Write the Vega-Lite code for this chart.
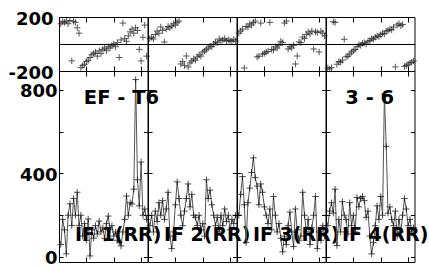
{
"$schema":"https://vega.github.io/schema/vega-lite/v6.json",
"padding":{"left":7,"top":9,"right":2,"bottom":0},
"background":"white",
"config":{"view":{"stroke":"black","strokeWidth":1},"axis":{"labelFont":"DejaVu Sans","labelFontWeight":"bold","labelFontSize":18,"labelColor":"black","tickColor":"black","tickWidth":1}},
"datasets":{
"labs":[{"p":1,"lab":"IF 1(RR)","top":"EF - T6"},{"p":2,"lab":"IF 2(RR)","top":""},{"p":3,"lab":"IF 3(RR)","top":""},{"p":4,"lab":"IF 4(RR)","top":"3 - 6"}],
"d":[
{"p":1,"c":1,"a":60,"f":150},{"p":1,"c":2,"a":180,"f":165},{"p":1,"c":3,"a":130,"f":160},{"p":1,"c":4,"a":15,"f":170},{"p":1,"c":5,"a":200,"f":150},{"p":1,"c":6,"a":255,"f":175},{"p":1,"c":7,"a":150,"f":-125},{"p":1,"c":8,"a":280,"f":168},{"p":1,"c":9,"a":200,"f":160},{"p":1,"c":10,"a":310,"f":120},{"p":1,"c":11,"a":150,"f":80},{"p":1,"c":12,"a":200,"f":-175},{"p":1,"c":13,"a":100,"f":-160},{"p":1,"c":14,"a":160,"f":-150},{"p":1,"c":15,"a":80,"f":-130},{"p":1,"c":16,"a":182,"f":-120},{"p":1,"c":17,"a":5,"f":-100},{"p":1,"c":18,"a":130,"f":-80},{"p":1,"c":19,"a":90,"f":-70},{"p":1,"c":20,"a":150,"f":-60},{"p":1,"c":21,"a":110,"f":-90},{"p":1,"c":22,"a":172,"f":-50},{"p":1,"c":23,"a":120,"f":-70},{"p":1,"c":24,"a":140,"f":-40},{"p":1,"c":25,"a":90,"f":-30},{"p":1,"c":26,"a":160,"f":-50},{"p":1,"c":27,"a":196,"f":-20},{"p":1,"c":28,"a":130,"f":-30},{"p":1,"c":29,"a":150,"f":-10},{"p":1,"c":30,"a":100,"f":0},{"p":1,"c":31,"a":120,"f":-20},{"p":1,"c":32,"a":80,"f":10},{"p":1,"c":33,"a":72,"f":-100},{"p":1,"c":34,"a":53,"f":30},{"p":1,"c":35,"a":120,"f":155},{"p":1,"c":36,"a":180,"f":40},{"p":1,"c":37,"a":292,"f":20},{"p":1,"c":38,"a":200,"f":60},{"p":1,"c":39,"a":260,"f":90},{"p":1,"c":40,"a":254,"f":110},{"p":1,"c":41,"a":325,"f":80},{"p":1,"c":42,"a":850,"f":120},{"p":1,"c":43,"a":370,"f":100},{"p":1,"c":44,"a":245,"f":-40},{"p":1,"c":45,"a":455,"f":-125},{"p":1,"c":46,"a":200,"f":50},{"p":1,"c":47,"a":230,"f":140},{"p":1,"c":48,"a":180,"f":-90},
{"p":2,"c":1,"a":150,"f":40},{"p":2,"c":2,"a":200,"f":50},{"p":2,"c":3,"a":120,"f":37},{"p":2,"c":4,"a":220,"f":70},{"p":2,"c":5,"a":170,"f":96},{"p":2,"c":6,"a":260,"f":80},{"p":2,"c":7,"a":200,"f":126},{"p":2,"c":8,"a":270,"f":100},{"p":2,"c":9,"a":180,"f":15},{"p":2,"c":10,"a":230,"f":110},{"p":2,"c":11,"a":310,"f":130},{"p":2,"c":12,"a":100,"f":120},{"p":2,"c":13,"a":40,"f":133},{"p":2,"c":14,"a":120,"f":150},{"p":2,"c":15,"a":250,"f":140},{"p":2,"c":16,"a":360,"f":160},{"p":2,"c":17,"a":280,"f":170},{"p":2,"c":18,"a":200,"f":-148},{"p":2,"c":19,"a":150,"f":-130},{"p":2,"c":20,"a":220,"f":-160},{"p":2,"c":21,"a":280,"f":-89},{"p":2,"c":22,"a":350,"f":-170},{"p":2,"c":23,"a":240,"f":-140},{"p":2,"c":24,"a":300,"f":-126},{"p":2,"c":25,"a":200,"f":-110},{"p":2,"c":26,"a":190,"f":-120},{"p":2,"c":27,"a":150,"f":-96},{"p":2,"c":28,"a":200,"f":-80},{"p":2,"c":29,"a":130,"f":-90},{"p":2,"c":30,"a":160,"f":-60},{"p":2,"c":31,"a":100,"f":-52},{"p":2,"c":32,"a":370,"f":-40},{"p":2,"c":33,"a":280,"f":-30},{"p":2,"c":34,"a":320,"f":-15},{"p":2,"c":35,"a":250,"f":-20},{"p":2,"c":36,"a":200,"f":0},{"p":2,"c":37,"a":150,"f":15},{"p":2,"c":38,"a":190,"f":10},{"p":2,"c":39,"a":120,"f":37},{"p":2,"c":40,"a":200,"f":25},{"p":2,"c":41,"a":150,"f":30},{"p":2,"c":42,"a":230,"f":40},{"p":2,"c":43,"a":170,"f":22},{"p":2,"c":44,"a":200,"f":30},{"p":2,"c":45,"a":130,"f":25},{"p":2,"c":46,"a":180,"f":20},{"p":2,"c":47,"a":160,"f":35},{"p":2,"c":48,"a":200,"f":22},
{"p":3,"c":1,"a":200,"f":80},{"p":3,"c":2,"a":300,"f":96},{"p":3,"c":3,"a":385,"f":110},{"p":3,"c":4,"a":250,"f":-178},{"p":3,"c":5,"a":70,"f":130},{"p":3,"c":6,"a":260,"f":125},{"p":3,"c":7,"a":330,"f":150},{"p":3,"c":8,"a":405,"f":140},{"p":3,"c":9,"a":475,"f":160},{"p":3,"c":10,"a":380,"f":170},{"p":3,"c":11,"a":340,"f":-96},{"p":3,"c":12,"a":250,"f":-90},{"p":3,"c":13,"a":350,"f":155},{"p":3,"c":14,"a":310,"f":-75},{"p":3,"c":15,"a":240,"f":-70},{"p":3,"c":16,"a":200,"f":-60},{"p":3,"c":17,"a":160,"f":-55},{"p":3,"c":18,"a":230,"f":160},{"p":3,"c":19,"a":130,"f":-40},{"p":3,"c":20,"a":290,"f":-45},{"p":3,"c":21,"a":200,"f":-20},{"p":3,"c":22,"a":120,"f":-30},{"p":3,"c":23,"a":160,"f":-10},{"p":3,"c":24,"a":90,"f":20},{"p":3,"c":25,"a":25,"f":10},{"p":3,"c":26,"a":100,"f":155},{"p":3,"c":27,"a":60,"f":170},{"p":3,"c":28,"a":150,"f":-37},{"p":3,"c":29,"a":215,"f":-20},{"p":3,"c":30,"a":120,"f":-30},{"p":3,"c":31,"a":50,"f":-10},{"p":3,"c":32,"a":230,"f":-148},{"p":3,"c":33,"a":130,"f":-89},{"p":3,"c":34,"a":80,"f":15},{"p":3,"c":35,"a":100,"f":10},{"p":3,"c":36,"a":310,"f":52},{"p":3,"c":37,"a":200,"f":40},{"p":3,"c":38,"a":120,"f":70},{"p":3,"c":39,"a":180,"f":89},{"p":3,"c":40,"a":60,"f":75},{"p":3,"c":41,"a":140,"f":96},{"p":3,"c":42,"a":200,"f":-37},{"p":3,"c":43,"a":290,"f":90},{"p":3,"c":44,"a":40,"f":85},{"p":3,"c":45,"a":120,"f":-59},{"p":3,"c":46,"a":80,"f":95},{"p":3,"c":47,"a":150,"f":80},{"p":3,"c":48,"a":100,"f":60},
{"p":4,"c":1,"a":150,"f":-178},{"p":4,"c":2,"a":220,"f":-185},{"p":4,"c":3,"a":260,"f":-175},{"p":4,"c":4,"a":210,"f":165},{"p":4,"c":5,"a":325,"f":160},{"p":4,"c":6,"a":55,"f":-150},{"p":4,"c":7,"a":180,"f":-130},{"p":4,"c":8,"a":120,"f":-135},{"p":4,"c":9,"a":265,"f":-120},{"p":4,"c":10,"a":200,"f":35},{"p":4,"c":11,"a":180,"f":-95},{"p":4,"c":12,"a":110,"f":-90},{"p":4,"c":13,"a":260,"f":-75},{"p":4,"c":14,"a":150,"f":-60},{"p":4,"c":15,"a":200,"f":-50},{"p":4,"c":16,"a":120,"f":-40},{"p":4,"c":17,"a":285,"f":-20},{"p":4,"c":18,"a":240,"f":-5},{"p":4,"c":19,"a":280,"f":-10},{"p":4,"c":20,"a":290,"f":5},{"p":4,"c":21,"a":270,"f":10},{"p":4,"c":22,"a":190,"f":0},{"p":4,"c":23,"a":220,"f":20},{"p":4,"c":24,"a":100,"f":25},{"p":4,"c":25,"a":15,"f":40},{"p":4,"c":26,"a":70,"f":35},{"p":4,"c":27,"a":150,"f":50},{"p":4,"c":28,"a":245,"f":60},{"p":4,"c":29,"a":180,"f":55},{"p":4,"c":30,"a":290,"f":70},{"p":4,"c":31,"a":200,"f":80},{"p":4,"c":32,"a":780,"f":75},{"p":4,"c":33,"a":530,"f":95},{"p":4,"c":34,"a":210,"f":100},{"p":4,"c":35,"a":240,"f":110},{"p":4,"c":36,"a":180,"f":105},{"p":4,"c":37,"a":150,"f":125},{"p":4,"c":38,"a":220,"f":-170},{"p":4,"c":39,"a":100,"f":140},{"p":4,"c":40,"a":180,"f":150},{"p":4,"c":41,"a":120,"f":135},{"p":4,"c":42,"a":200,"f":145},{"p":4,"c":43,"a":280,"f":-165},{"p":4,"c":44,"a":230,"f":-160},{"p":4,"c":45,"a":150,"f":-150},{"p":4,"c":46,"a":180,"f":-140},{"p":4,"c":47,"a":120,"f":-135},{"p":4,"c":48,"a":140,"f":-126}
]},
"spacing":0,
"bounds":"flush",
"columns":4,
"concat":[
 {"width":88.5,"height":54,"data":{"name":"d"},"transform":[{"filter":"datum.p == 1"}],"resolve":{"axis":{"x":"independent","y":"independent"}},"layer":[
  {"mark":{"type":"point","shape":"M-1,0H1M0,-1V1","size":42,"filled":false,"stroke":"#111","strokeWidth":1},"encoding":{"x":{"field":"c","type":"quantitative","scale":{"domain":[0,48.5],"nice":false,"zero":false},"axis":{"orient":"bottom","values":[15,30,45],"labels":false,"tickSize":-5,"domain":false,"grid":false,"title":null}},"y":{"field":"f","type":"quantitative","scale":{"domain":[-200,200],"nice":false,"zero":false},"axis":{"orient":"left","values":[-200,0,200],"ticks":false,"grid":true,"gridColor":"black","gridOpacity":1,"labels":true,"labelOverlap":false,"labelExpr":"datum.value == 0 ? '' : toString(datum.value)","labelPadding":6,"labelOffset":2,"domain":false,"title":null}}}},
  {"mark":{"type":"point","opacity":0},"encoding":{"x":{"field":"c","type":"quantitative","axis":{"orient":"top","values":[15,30,45],"labels":false,"tickSize":-5,"domain":false,"grid":false,"title":null}},"y":{"field":"f","type":"quantitative","axis":null}}}
 ]},
 {"width":88.5,"height":54,"data":{"name":"d"},"transform":[{"filter":"datum.p == 2"}],"resolve":{"axis":{"x":"independent","y":"independent"}},"layer":[
  {"mark":{"type":"point","shape":"M-1,0H1M0,-1V1","size":42,"filled":false,"stroke":"#111","strokeWidth":1},"encoding":{"x":{"field":"c","type":"quantitative","scale":{"domain":[0,48.5],"nice":false,"zero":false},"axis":{"orient":"bottom","values":[15,30,45],"labels":false,"tickSize":-5,"domain":false,"grid":false,"title":null}},"y":{"field":"f","type":"quantitative","scale":{"domain":[-200,200],"nice":false,"zero":false},"axis":{"orient":"left","values":[-200,0,200],"ticks":false,"grid":true,"gridColor":"black","gridOpacity":1,"labels":false,"domain":false,"title":null}}}},
  {"mark":{"type":"point","opacity":0},"encoding":{"x":{"field":"c","type":"quantitative","axis":{"orient":"top","values":[15,30,45],"labels":false,"tickSize":-5,"domain":false,"grid":false,"title":null}},"y":{"field":"f","type":"quantitative","axis":null}}}
 ]},
 {"width":88.5,"height":54,"data":{"name":"d"},"transform":[{"filter":"datum.p == 3"}],"resolve":{"axis":{"x":"independent","y":"independent"}},"layer":[
  {"mark":{"type":"point","shape":"M-1,0H1M0,-1V1","size":42,"filled":false,"stroke":"#111","strokeWidth":1},"encoding":{"x":{"field":"c","type":"quantitative","scale":{"domain":[0,48.5],"nice":false,"zero":false},"axis":{"orient":"bottom","values":[15,30,45],"labels":false,"tickSize":-5,"domain":false,"grid":false,"title":null}},"y":{"field":"f","type":"quantitative","scale":{"domain":[-200,200],"nice":false,"zero":false},"axis":{"orient":"left","values":[-200,0,200],"ticks":false,"grid":true,"gridColor":"black","gridOpacity":1,"labels":false,"domain":false,"title":null}}}},
  {"mark":{"type":"point","opacity":0},"encoding":{"x":{"field":"c","type":"quantitative","axis":{"orient":"top","values":[15,30,45],"labels":false,"tickSize":-5,"domain":false,"grid":false,"title":null}},"y":{"field":"f","type":"quantitative","axis":null}}}
 ]},
 {"width":88.5,"height":54,"data":{"name":"d"},"transform":[{"filter":"datum.p == 4"}],"resolve":{"axis":{"x":"independent","y":"independent"}},"layer":[
  {"mark":{"type":"point","shape":"M-1,0H1M0,-1V1","size":42,"filled":false,"stroke":"#111","strokeWidth":1},"encoding":{"x":{"field":"c","type":"quantitative","scale":{"domain":[0,48.5],"nice":false,"zero":false},"axis":{"orient":"bottom","values":[15,30,45],"labels":false,"tickSize":-5,"domain":false,"grid":false,"title":null}},"y":{"field":"f","type":"quantitative","scale":{"domain":[-200,200],"nice":false,"zero":false},"axis":{"orient":"left","values":[-200,0,200],"ticks":false,"grid":true,"gridColor":"black","gridOpacity":1,"labels":false,"domain":false,"title":null}}}},
  {"mark":{"type":"point","opacity":0},"encoding":{"x":{"field":"c","type":"quantitative","axis":{"orient":"top","values":[15,30,45],"labels":false,"tickSize":-5,"domain":false,"grid":false,"title":null}},"y":{"field":"f","type":"quantitative","axis":null}}}
 ]},
 {"width":88.5,"height":191,"data":{"name":"d"},"transform":[{"filter":"datum.p == 1"}],"resolve":{"axis":{"x":"independent","y":"independent"}},"layer":[
  {"mark":{"type":"line","color":"#555","strokeWidth":1},"encoding":{"x":{"field":"c","type":"quantitative","scale":{"domain":[0,48.5],"nice":false,"zero":false},"axis":{"orient":"bottom","values":[15,30,45],"labels":false,"tickSize":-5,"domain":false,"grid":false,"title":null}},"y":{"field":"a","type":"quantitative","scale":{"domain":[-24,891],"nice":false,"zero":false},"axis":{"orient":"left","values":[0,200,400,600,800],"tickSize":-4,"labels":true,"labelOverlap":false,"labelExpr":"datum.value % 400 == 0 ? toString(datum.value) : ''","labelPadding":6,"labelOffset":2,"domain":false,"grid":false,"title":null}}}},
  {"mark":{"type":"point","shape":"M-1,0H1M0,-1V1","size":42,"filled":false,"stroke":"black","strokeWidth":1},"encoding":{"x":{"field":"c","type":"quantitative","axis":{"orient":"top","values":[15,30,45],"labels":false,"tickSize":-5,"domain":false,"grid":false,"title":null}},"y":{"field":"a","type":"quantitative","axis":{"orient":"right","values":[0,200,400,600,800],"tickSize":-4,"labels":false,"domain":false,"grid":false,"title":null}}}},
  {"data":{"name":"labs"},"transform":[{"filter":"datum.p == 1"}],"mark":{"type":"text","align":"left","baseline":"alphabetic","font":"DejaVu Sans","fontWeight":"bold","fontSize":19,"color":"black"},"encoding":{"x":{"datum":8.7,"type":"quantitative","axis":null},"y":{"datum":77,"type":"quantitative","axis":null},"text":{"field":"lab"}}},
  {"data":{"name":"labs"},"transform":[{"filter":"datum.p == 1"}],"mark":{"type":"text","align":"left","baseline":"alphabetic","font":"DejaVu Sans","fontWeight":"bold","fontSize":19.5,"color":"black"},"encoding":{"x":{"datum":13.6,"type":"quantitative","axis":null},"y":{"datum":733,"type":"quantitative","axis":null},"text":{"field":"top"}}}
 ]},
 {"width":88.5,"height":191,"data":{"name":"d"},"transform":[{"filter":"datum.p == 2"}],"resolve":{"axis":{"x":"independent","y":"independent"}},"layer":[
  {"mark":{"type":"line","color":"#555","strokeWidth":1},"encoding":{"x":{"field":"c","type":"quantitative","scale":{"domain":[0,48.5],"nice":false,"zero":false},"axis":{"orient":"bottom","values":[15,30,45],"labels":false,"tickSize":-5,"domain":false,"grid":false,"title":null}},"y":{"field":"a","type":"quantitative","scale":{"domain":[-24,891],"nice":false,"zero":false},"axis":{"orient":"left","values":[0,200,400,600,800],"tickSize":-4,"labels":false,"domain":false,"grid":false,"title":null}}}},
  {"mark":{"type":"point","shape":"M-1,0H1M0,-1V1","size":42,"filled":false,"stroke":"black","strokeWidth":1},"encoding":{"x":{"field":"c","type":"quantitative","axis":{"orient":"top","values":[15,30,45],"labels":false,"tickSize":-5,"domain":false,"grid":false,"title":null}},"y":{"field":"a","type":"quantitative","axis":{"orient":"right","values":[0,200,400,600,800],"tickSize":-4,"labels":false,"domain":false,"grid":false,"title":null}}}},
  {"data":{"name":"labs"},"transform":[{"filter":"datum.p == 2"}],"mark":{"type":"text","align":"left","baseline":"alphabetic","font":"DejaVu Sans","fontWeight":"bold","fontSize":19,"color":"black"},"encoding":{"x":{"datum":8.7,"type":"quantitative","axis":null},"y":{"datum":77,"type":"quantitative","axis":null},"text":{"field":"lab"}}}
 ]},
 {"width":88.5,"height":191,"data":{"name":"d"},"transform":[{"filter":"datum.p == 3"}],"resolve":{"axis":{"x":"independent","y":"independent"}},"layer":[
  {"mark":{"type":"line","color":"#555","strokeWidth":1},"encoding":{"x":{"field":"c","type":"quantitative","scale":{"domain":[0,48.5],"nice":false,"zero":false},"axis":{"orient":"bottom","values":[15,30,45],"labels":false,"tickSize":-5,"domain":false,"grid":false,"title":null}},"y":{"field":"a","type":"quantitative","scale":{"domain":[-24,891],"nice":false,"zero":false},"axis":{"orient":"left","values":[0,200,400,600,800],"tickSize":-4,"labels":false,"domain":false,"grid":false,"title":null}}}},
  {"mark":{"type":"point","shape":"M-1,0H1M0,-1V1","size":42,"filled":false,"stroke":"black","strokeWidth":1},"encoding":{"x":{"field":"c","type":"quantitative","axis":{"orient":"top","values":[15,30,45],"labels":false,"tickSize":-5,"domain":false,"grid":false,"title":null}},"y":{"field":"a","type":"quantitative","axis":{"orient":"right","values":[0,200,400,600,800],"tickSize":-4,"labels":false,"domain":false,"grid":false,"title":null}}}},
  {"data":{"name":"labs"},"transform":[{"filter":"datum.p == 3"}],"mark":{"type":"text","align":"left","baseline":"alphabetic","font":"DejaVu Sans","fontWeight":"bold","fontSize":19,"color":"black"},"encoding":{"x":{"datum":8.7,"type":"quantitative","axis":null},"y":{"datum":77,"type":"quantitative","axis":null},"text":{"field":"lab"}}}
 ]},
 {"width":88.5,"height":191,"data":{"name":"d"},"transform":[{"filter":"datum.p == 4"}],"resolve":{"axis":{"x":"independent","y":"independent"}},"layer":[
  {"mark":{"type":"line","color":"#555","strokeWidth":1},"encoding":{"x":{"field":"c","type":"quantitative","scale":{"domain":[0,48.5],"nice":false,"zero":false},"axis":{"orient":"bottom","values":[15,30,45],"labels":false,"tickSize":-5,"domain":false,"grid":false,"title":null}},"y":{"field":"a","type":"quantitative","scale":{"domain":[-24,891],"nice":false,"zero":false},"axis":{"orient":"left","values":[0,200,400,600,800],"tickSize":-4,"labels":false,"domain":false,"grid":false,"title":null}}}},
  {"mark":{"type":"point","shape":"M-1,0H1M0,-1V1","size":42,"filled":false,"stroke":"black","strokeWidth":1},"encoding":{"x":{"field":"c","type":"quantitative","axis":{"orient":"top","values":[15,30,45],"labels":false,"tickSize":-5,"domain":false,"grid":false,"title":null}},"y":{"field":"a","type":"quantitative","axis":{"orient":"right","values":[0,200,400,600,800],"tickSize":-4,"labels":false,"domain":false,"grid":false,"title":null}}}},
  {"data":{"name":"labs"},"transform":[{"filter":"datum.p == 4"}],"mark":{"type":"text","align":"left","baseline":"alphabetic","font":"DejaVu Sans","fontWeight":"bold","fontSize":19,"color":"black"},"encoding":{"x":{"datum":8.7,"type":"quantitative","axis":null},"y":{"datum":77,"type":"quantitative","axis":null},"text":{"field":"lab"}}},
  {"data":{"name":"labs"},"transform":[{"filter":"datum.p == 4"}],"mark":{"type":"text","align":"left","baseline":"alphabetic","font":"DejaVu Sans","fontWeight":"bold","fontSize":19.5,"color":"black"},"encoding":{"x":{"datum":10.6,"type":"quantitative","axis":null},"y":{"datum":733,"type":"quantitative","axis":null},"text":{"field":"top"}}}
 ]}
]
}
